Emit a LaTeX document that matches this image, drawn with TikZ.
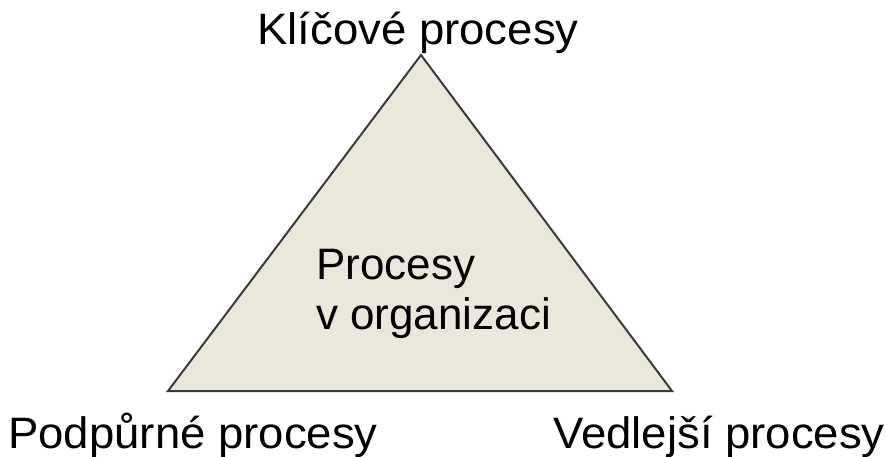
\documentclass[tikz,border=0pt]{standalone}
\usepackage{fontspec}
\setmainfont{Liberation Sans}
\definecolor{trifill}{HTML}{EAE7DB}
\definecolor{triline}{HTML}{3A3A3A}
\tikzset{
    lbl/.style={font=\fontsize{44}{50}\selectfont, inner sep=0pt, anchor=base west},
    outer/.style={lbl, xscale=1.035},
}
\begin{document}
\begin{tikzpicture}[x=1pt,y=-1pt]
    \useasboundingbox (0,0) rectangle (887,457);

    \coordinate (top)   at (421,55);
    \coordinate (left)  at (168,391);
    \coordinate (right) at (672,391);

    \draw[line width=2pt,triline,fill=trifill,line join=miter] (top) -- (left) -- (right) -- cycle;

    \node[outer] (klic) at (257,45)  {Klíčové procesy};
    \node[outer] (podp) at (8,448)   {Podpůrné procesy};
    \node[outer] (vedl) at (553,448) {Vedlejší procesy};

    \node[lbl] (org) at (316,280) {Procesy};
    \node[lbl] (org2) at (316,330) {v organizaci};
\end{tikzpicture}
\end{document}
